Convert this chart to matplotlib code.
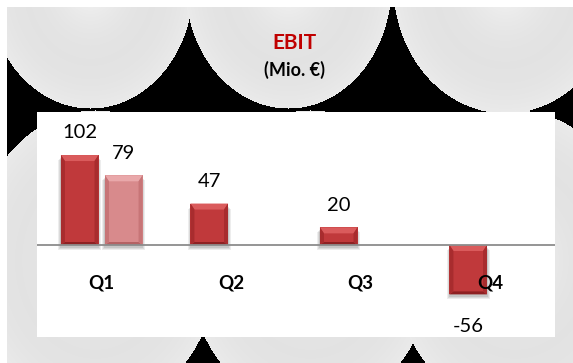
import numpy as np
import matplotlib
matplotlib.use("Agg")
import matplotlib.pyplot as plt
from matplotlib.patches import Polygon, Rectangle
from matplotlib.transforms import blended_transform_factory

plt.rcParams["font.family"] = ["Lato", "DejaVu Sans"]

categories = ["Q1", "Q2", "Q3", "Q4"]
ebit_main = [102, 47, 20, -56]
ebit_prev = [79, np.nan, np.nan, np.nan]

title = "EBIT"
subtitle = "(Mio. €)"

W, H = 573, 363


def background():
    # decorative slide background: light ellipses on black
    img = np.ones((H, W, 3))
    yy, xx = np.mgrid[0:H, 0:W]
    val = np.zeros((H, W))
    ellipses = [
        (90, -15, 103, 123), (288, -15, 103, 123), (505, -15, 112, 128),
        (95, 260, 123, 150), (310, 260, 123, 150), (515, 260, 123, 150),
    ]
    for cx, cy, a, b in ellipses:
        r = np.sqrt(((xx - cx) / a) ** 2 + ((yy - cy) / b) ** 2)
        inside = r <= 1
        val[inside] = 0.96 - 0.07 * np.sin(np.pi * r[inside] * 0.8)
    area = (xx >= 7) & (yy >= 7)
    for c in range(3):
        ch = img[:, :, c]
        ch[area] = val[area]
    return img


def bevel_bar(ax, x0, width, value, base, top, side, bottom, px_x, px_y):
    x1 = x0 + width
    lo, hi = min(0, value), max(0, value)
    bx = 4 / px_x
    tb = 6 / px_y
    sb = 3 / px_y
    # soft shadow
    for k, al in [(3, 0.10), (2, 0.12), (1, 0.15)]:
        ax.add_patch(Rectangle((x0 - k * 0.9 / px_x, lo - (k + 2) / px_y),
                               width + k * 1.8 / px_x, hi - lo,
                               color="#555555", alpha=al, lw=0, zorder=1))
    ax.add_patch(Rectangle((x0, lo), width, hi - lo, color=base, lw=0, zorder=2))
    ax.add_patch(Polygon([(x0, hi), (x1, hi), (x1 - bx, hi - tb), (x0 + bx, hi - tb)],
                         closed=True, color=top, lw=0, zorder=3))
    ax.add_patch(Polygon([(x0, lo), (x1, lo), (x1 - bx, lo + sb), (x0 + bx, lo + sb)],
                         closed=True, color=bottom, lw=0, zorder=3))
    ax.add_patch(Polygon([(x0, hi), (x0 + bx, hi - tb), (x0 + bx, lo + sb), (x0, lo)],
                         closed=True, color=side, lw=0, zorder=3))
    ax.add_patch(Polygon([(x1, hi), (x1 - bx, hi - tb), (x1 - bx, lo + sb), (x1, lo)],
                         closed=True, color=side, lw=0, zorder=3))


fig = plt.figure(figsize=(W / 100, H / 100), dpi=100)
bg = fig.add_axes([0, 0, 1, 1])
bg.imshow(background(), extent=(0, W, H, 0), interpolation="bilinear")
bg.set_xlim(0, W)
bg.set_ylim(H, 0)
bg.axis("off")

fig.text(294 / W, 1 - 43 / H, title, color="#c00000", fontsize=15,
         fontweight="bold", ha="center", va="center")
fig.text(295 / W, 1 - 70 / H, subtitle, color="black", fontsize=13,
         fontweight="bold", ha="center", va="center")

ax_l, ax_r, ax_t, ax_b = 37, 555, 112, 337
ax = fig.add_axes([ax_l / W, 1 - ax_b / H, (ax_r - ax_l) / W, (ax_b - ax_t) / H])
ax.set_facecolor("white")
ax.set_xlim(-0.5, 3.5)
ax.set_ylim(-104.3, 150.8)
for s in ax.spines.values():
    s.set_visible(False)
ax.set_xticks([])
ax.set_yticks([])

px_x = (ax_r - ax_l) / 4.0
px_y = (ax_b - ax_t) / (150.8 + 104.3)

bar_w = 0.29
offset = 0.17
x = np.arange(len(categories))

for i, v in enumerate(ebit_main):
    bevel_bar(ax, x[i] - offset - bar_w / 2, bar_w, v,
              "#c0393b", "#da5b5c", "#a82c2e", "#8e2123", px_x, px_y)
    if v >= 0:
        ax.annotate(str(v), (x[i] - offset, v), xytext=(0, 16), textcoords="offset points",
                    ha="center", va="center", fontsize=14.5, color="black")
    else:
        ax.annotate(str(v), (x[i] - offset, v), xytext=(0, -23), textcoords="offset points",
                    ha="center", va="center", fontsize=14.5, color="black")

for i, v in enumerate(ebit_prev):
    if np.isnan(v):
        continue
    bevel_bar(ax, x[i] + offset - bar_w / 2, bar_w, v,
              "#d88a8c", "#e9a8aa", "#c77577", "#b46264", px_x, px_y)
    ax.annotate(f"{v:g}", (x[i] + offset, v), xytext=(0, 16), textcoords="offset points",
                ha="center", va="center", fontsize=14.5, color="black")

ax.axhline(0, color="#8c8c8c", lw=1.3, zorder=5)

trans = blended_transform_factory(ax.transData, ax.transAxes)
for i, c in enumerate(categories):
    ax.text(x[i], 0.24, c, transform=trans, ha="center", va="center",
            fontsize=13.5, fontweight="bold", color="black", zorder=6)

fig.savefig("out.png", dpi=100)
